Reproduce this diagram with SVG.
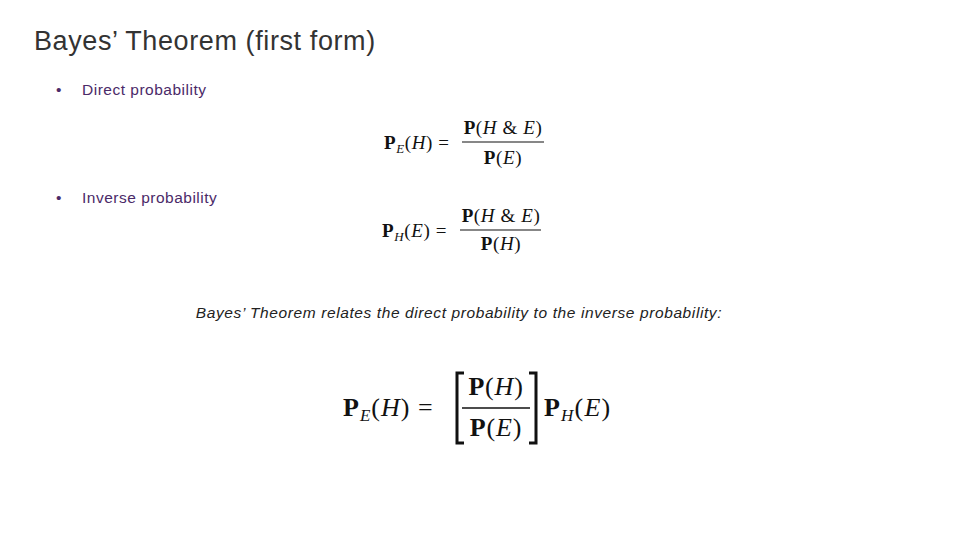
<svg xmlns="http://www.w3.org/2000/svg" width="960" height="540" viewBox="0 0 960 540">
<style>
.t{font-family:"Liberation Sans",Arial,sans-serif}
.b{font-family:"Liberation Sans",Arial,sans-serif;font-size:15.5px;letter-spacing:0.5px;fill:#4b2a68}
.m{font-family:"Liberation Serif","Times New Roman",serif;fill:#111}
.i{font-style:italic}
.w{font-weight:bold}
</style>
<rect width="960" height="540" fill="#fff"/>
<text class="t" x="34" y="50" font-size="27" letter-spacing="0.6" fill="#333" font-weight="300">Bayes’ Theorem (first form)</text>
<text class="b" x="56" y="95">•</text><text class="b" x="82" y="95">Direct probability</text>
<text class="b" x="56" y="203">•</text><text class="b" x="82" y="203">Inverse probability</text>
<text class="t i" x="459" y="318" font-size="15.5" letter-spacing="0.6" fill="#222" text-anchor="middle">Bayes’ Theorem relates the direct probability to the inverse probability:</text>
<g class="m" font-size="19">
<text x="384" y="149" letter-spacing="0.6"><tspan class="w">P</tspan><tspan class="i" font-size="13" dy="4">E</tspan><tspan dy="-4">(</tspan><tspan class="i">H</tspan>) =</text>
<text x="503" y="134" text-anchor="middle" letter-spacing="0.6"><tspan class="w">P</tspan>(<tspan class="i">H</tspan> &amp; <tspan class="i">E</tspan>)</text>
<text x="503" y="164" text-anchor="middle" letter-spacing="0.6"><tspan class="w">P</tspan>(<tspan class="i">E</tspan>)</text>
<line x1="462" y1="142" x2="544" y2="142" stroke="#111" stroke-width="1.2"/>
<text x="382" y="237" letter-spacing="0.6"><tspan class="w">P</tspan><tspan class="i" font-size="13" dy="4">H</tspan><tspan dy="-4">(</tspan><tspan class="i">E</tspan>) =</text>
<text x="501" y="222" text-anchor="middle" letter-spacing="0.6"><tspan class="w">P</tspan>(<tspan class="i">H</tspan> &amp; <tspan class="i">E</tspan>)</text>
<text x="501" y="250" text-anchor="middle" letter-spacing="0.6"><tspan class="w">P</tspan>(<tspan class="i">H</tspan>)</text>
<line x1="460" y1="230" x2="541" y2="230" stroke="#111" stroke-width="1.2"/>
</g>
<g class="m" font-size="26">
<text x="343" y="416" letter-spacing="1"><tspan class="w">P</tspan><tspan class="i" font-size="17" dy="5">E</tspan><tspan dy="-5">(</tspan><tspan class="i">H</tspan>) =</text>
<text x="496" y="395" text-anchor="middle" letter-spacing="0.8"><tspan class="w">P</tspan>(<tspan class="i">H</tspan>)</text>
<text x="496" y="436" text-anchor="middle" letter-spacing="0.8"><tspan class="w">P</tspan>(<tspan class="i">E</tspan>)</text>
<line x1="462" y1="408" x2="530" y2="408" stroke="#111" stroke-width="1.6"/>
<path d="M464 373H457V443H464M529 373H536V443H529" fill="none" stroke="#111" stroke-width="3"/>
<text x="544" y="416" letter-spacing="1.2"><tspan class="w">P</tspan><tspan class="i" font-size="17" dy="5">H</tspan><tspan dy="-5">(</tspan><tspan class="i">E</tspan>)</text>
</g>
</svg>
